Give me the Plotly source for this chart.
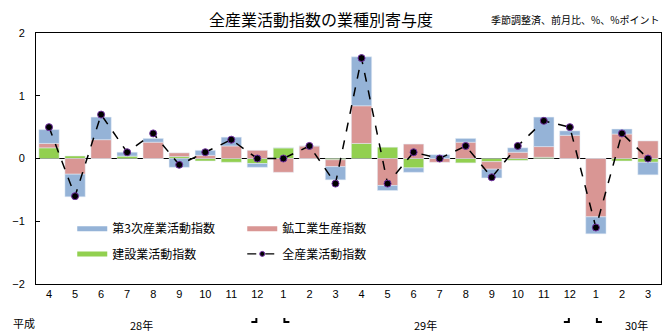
import plotly.graph_objects as go

months = ["4","5","6","7","8","9","10","11","12","1","2","3",
          "4","5","6","7","8","9","10","11","12","1","2","3"]
tertiary = [0.22,-0.36,0.36,0.06,0.06,-0.14,0.08,0.14,-0.06,0.0,0.0,-0.21,
            0.78,-0.08,-0.07,0.06,0.06,-0.14,0.07,0.47,0.07,-0.27,0.08,-0.20]
mining = [0.07,-0.25,0.30,0.0,0.26,0.06,0.05,0.20,0.13,-0.22,0.20,-0.11,
          0.60,-0.43,0.23,-0.06,0.26,-0.12,0.10,0.17,0.37,-0.93,0.39,0.28]
construction = [0.17,0.04,0.0,0.04,0.0,0.03,-0.04,-0.06,-0.08,0.17,0.0,-0.02,
                0.24,0.18,-0.15,0.0,-0.07,-0.05,-0.03,0.02,0.0,0.0,-0.04,-0.06]
total = [0.5,-0.6,0.7,0.1,0.4,-0.1,0.1,0.3,0.0,0.0,0.2,-0.4,
         1.6,-0.4,0.1,0.0,0.2,-0.3,0.2,0.6,0.5,-1.1,0.4,0.0]
year_labels = ["28年", "29年", "30年"]
year_pos = [3.55, 14.45, 22.55]

names = ["第3次産業活動指数", "鉱工業生産指数", "建設業活動指数", "全産業活動指数"]
C_BLUE = "#95B3D7"
C_PINK = "#D99694"
C_GREEN = "#92D050"

FONT = "Noto Sans CJK JP"
x = list(range(len(months)))

fig = go.Figure()
fig.add_bar(x=x, y=construction, marker_color=C_GREEN, showlegend=False)
fig.add_bar(x=x, y=mining, marker_color=C_PINK, showlegend=False)
fig.add_bar(x=x, y=tertiary, marker_color=C_BLUE, showlegend=False)
fig.add_scatter(x=x, y=total, mode="lines+markers",
                line=dict(color="black", width=1.5, dash="dash"),
                marker=dict(color="black", size=7, line=dict(color="#7030A0", width=1)),
                showlegend=False)

# legend entries
fig.add_scatter(x=[0], y=[None], mode="lines", line=dict(color=C_BLUE, width=5),
                name=names[0], legend="legend", legendrank=1)
fig.add_scatter(x=[0], y=[None], mode="lines", line=dict(color=C_PINK, width=5),
                name=names[1], legend="legend", legendrank=2)
fig.add_scatter(x=[0], y=[None], mode="lines", line=dict(color=C_GREEN, width=5),
                name=names[2], legend="legend2", legendrank=1)
fig.add_scatter(x=[0], y=[None], mode="lines+markers",
                line=dict(color="black", width=1.2, dash="dash"),
                marker=dict(color="black", size=5, line=dict(color="#7030A0", width=1)),
                name=names[3], legend="legend2", legendrank=2)

leg_common = dict(orientation="h", bgcolor="white", borderwidth=0,
                  font=dict(family=FONT, size=12, color="black"),
                  entrywidth=125, entrywidthmode="pixels",
                  xanchor="left", yanchor="middle", itemclick=False)

fig.update_layout(
    width=670, height=335,
    margin=dict(l=36, r=9, t=33, b=51),
    paper_bgcolor="white", plot_bgcolor="white",
    barmode="relative", bargap=0.22,
    font=dict(family=FONT, size=11, color="black"),
    legend=dict(x=0.058, y=0.22, **leg_common),
    legend2=dict(x=0.058, y=0.12, **leg_common),
    xaxis=dict(range=[-0.5, 23.5], tickmode="array", tickvals=x, ticktext=months,
               showline=True, linecolor="black", linewidth=1, mirror=True,
               ticks="", showgrid=False, zeroline=False,
               tickfont=dict(family="Liberation Sans", size=11)),
    yaxis=dict(range=[-2, 2], dtick=1, showline=True, linecolor="black", linewidth=1,
               mirror=True, ticks="inside", ticklen=4, tickcolor="black",
               showgrid=False, zeroline=True, zerolinecolor="black", zerolinewidth=1,
               tickfont=dict(family="Liberation Sans", size=11), ticklabelstandoff=8),
)

fig.add_annotation(text="全産業活動指数の業種別寄与度", xref="paper", yref="paper",
                   x=0.456, y=1.0, yshift=14, showarrow=False, xanchor="center", yanchor="middle",
                   font=dict(family=FONT, size=16, color="black"))
fig.add_annotation(text="季節調整済、前月比、%、%ポイント", xref="paper", yref="paper",
                   x=1.0, y=1.0, yshift=14, showarrow=False, xanchor="right", yanchor="middle",
                   font=dict(family=FONT, size=10, color="black"))
fig.add_annotation(text="平成", xref="paper", yref="paper", x=-0.02, y=0, yshift=-39,
                   showarrow=False, xanchor="center", yanchor="middle",
                   font=dict(family=FONT, size=11))
for lab, pos in zip(year_labels, year_pos):
    fig.add_annotation(text=lab, xref="x", yref="paper", x=pos, y=0, yshift=-41,
                       showarrow=False, xanchor="center", yanchor="middle",
                       font=dict(family=FONT, size=11))

# bracket marks under the year boundaries (12 -> 1)
for idx in (8, 20):
    fig.add_shape(type="path", xref="x", yref="paper", xsizemode="pixel", ysizemode="pixel",
                  xanchor=idx, yanchor=0, path="M -6,-38 L -1,-38 L -1,-34",
                  line=dict(color="black", width=2))
    fig.add_shape(type="path", xref="x", yref="paper", xsizemode="pixel", ysizemode="pixel",
                  xanchor=idx + 1, yanchor=0, path="M 1,-34 L 1,-38 L 6,-38",
                  line=dict(color="black", width=2))

fig.write_html("out.html")
